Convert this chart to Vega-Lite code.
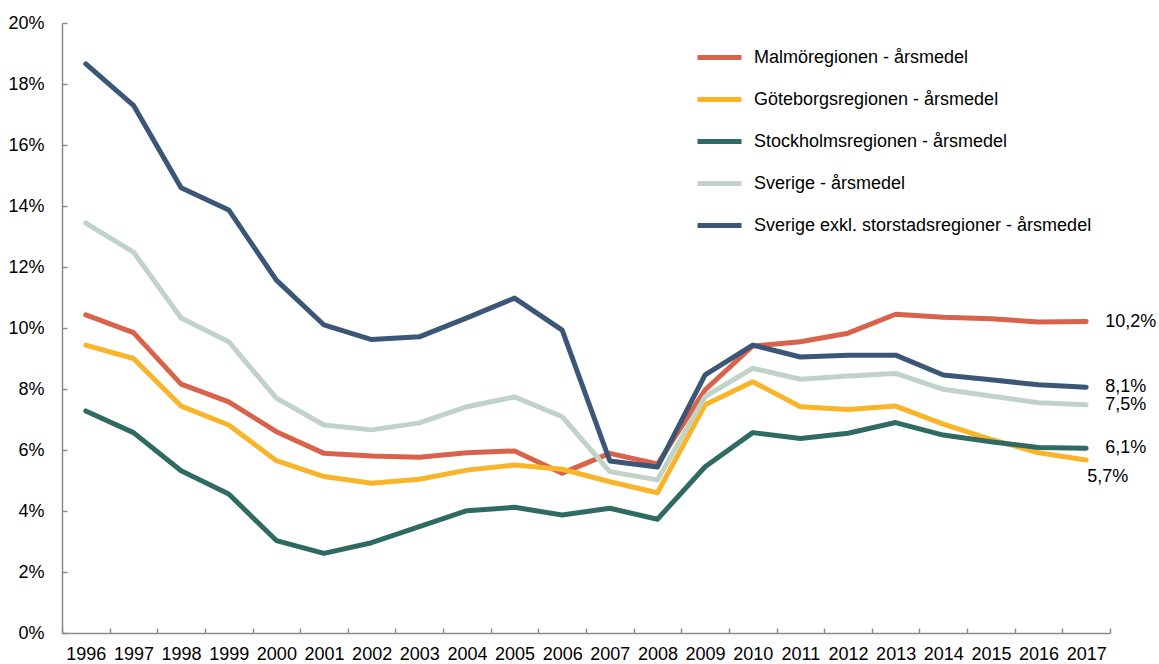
{
  "$schema": "https://vega.github.io/schema/vega-lite/v6.json",
  "width": 1048,
  "height": 610,
  "autosize": {"type": "none"},
  "padding": {"left": 62, "top": 23, "right": 49, "bottom": 31},
  "background": "white",
  "config": {
    "locale": {"number": {"decimal": ",", "thousands": " ", "grouping": [3], "currency": ["", " kr"]}},
    "view": {"stroke": null},
    "font": "Liberation Sans",
    "axis": {"labelFont": "Liberation Sans", "labelFontSize": 18, "labelColor": "#000000", "domainColor": "#8c8c8c", "tickColor": "#8c8c8c", "domainWidth": 1.5, "tickWidth": 1.5, "grid": false, "title": null}
  },
  "data": {
    "values": [
      {"year": "1996", "series": "Malmöregionen - årsmedel", "value": 0.1043},
      {"year": "1997", "series": "Malmöregionen - årsmedel", "value": 0.0985},
      {"year": "1998", "series": "Malmöregionen - årsmedel", "value": 0.0816},
      {"year": "1999", "series": "Malmöregionen - årsmedel", "value": 0.0758},
      {"year": "2000", "series": "Malmöregionen - årsmedel", "value": 0.0660},
      {"year": "2001", "series": "Malmöregionen - årsmedel", "value": 0.0589},
      {"year": "2002", "series": "Malmöregionen - årsmedel", "value": 0.0580},
      {"year": "2003", "series": "Malmöregionen - årsmedel", "value": 0.0576},
      {"year": "2004", "series": "Malmöregionen - årsmedel", "value": 0.0591},
      {"year": "2005", "series": "Malmöregionen - årsmedel", "value": 0.0597},
      {"year": "2006", "series": "Malmöregionen - årsmedel", "value": 0.0524},
      {"year": "2007", "series": "Malmöregionen - årsmedel", "value": 0.0589},
      {"year": "2008", "series": "Malmöregionen - årsmedel", "value": 0.0554},
      {"year": "2009", "series": "Malmöregionen - årsmedel", "value": 0.0797},
      {"year": "2010", "series": "Malmöregionen - årsmedel", "value": 0.0941},
      {"year": "2011", "series": "Malmöregionen - årsmedel", "value": 0.0955},
      {"year": "2012", "series": "Malmöregionen - årsmedel", "value": 0.0983},
      {"year": "2013", "series": "Malmöregionen - årsmedel", "value": 0.1045},
      {"year": "2014", "series": "Malmöregionen - årsmedel", "value": 0.1035},
      {"year": "2015", "series": "Malmöregionen - årsmedel", "value": 0.1030},
      {"year": "2016", "series": "Malmöregionen - årsmedel", "value": 0.1020},
      {"year": "2017", "series": "Malmöregionen - årsmedel", "value": 0.1021},
      {"year": "1996", "series": "Göteborgsregionen - årsmedel", "value": 0.0944},
      {"year": "1997", "series": "Göteborgsregionen - årsmedel", "value": 0.0900},
      {"year": "1998", "series": "Göteborgsregionen - årsmedel", "value": 0.0744},
      {"year": "1999", "series": "Göteborgsregionen - årsmedel", "value": 0.0682},
      {"year": "2000", "series": "Göteborgsregionen - årsmedel", "value": 0.0565},
      {"year": "2001", "series": "Göteborgsregionen - årsmedel", "value": 0.0513},
      {"year": "2002", "series": "Göteborgsregionen - årsmedel", "value": 0.0491},
      {"year": "2003", "series": "Göteborgsregionen - årsmedel", "value": 0.0504},
      {"year": "2004", "series": "Göteborgsregionen - årsmedel", "value": 0.0534},
      {"year": "2005", "series": "Göteborgsregionen - årsmedel", "value": 0.0551},
      {"year": "2006", "series": "Göteborgsregionen - årsmedel", "value": 0.0537},
      {"year": "2007", "series": "Göteborgsregionen - årsmedel", "value": 0.0496},
      {"year": "2008", "series": "Göteborgsregionen - årsmedel", "value": 0.0460},
      {"year": "2009", "series": "Göteborgsregionen - årsmedel", "value": 0.0748},
      {"year": "2010", "series": "Göteborgsregionen - årsmedel", "value": 0.0824},
      {"year": "2011", "series": "Göteborgsregionen - årsmedel", "value": 0.0742},
      {"year": "2012", "series": "Göteborgsregionen - årsmedel", "value": 0.0733},
      {"year": "2013", "series": "Göteborgsregionen - årsmedel", "value": 0.0744},
      {"year": "2014", "series": "Göteborgsregionen - årsmedel", "value": 0.0685},
      {"year": "2015", "series": "Göteborgsregionen - årsmedel", "value": 0.0635},
      {"year": "2016", "series": "Göteborgsregionen - årsmedel", "value": 0.0591},
      {"year": "2017", "series": "Göteborgsregionen - årsmedel", "value": 0.0567},
      {"year": "1996", "series": "Stockholmsregionen - årsmedel", "value": 0.0728},
      {"year": "1997", "series": "Stockholmsregionen - årsmedel", "value": 0.0657},
      {"year": "1998", "series": "Stockholmsregionen - årsmedel", "value": 0.0532},
      {"year": "1999", "series": "Stockholmsregionen - årsmedel", "value": 0.0456},
      {"year": "2000", "series": "Stockholmsregionen - årsmedel", "value": 0.0303},
      {"year": "2001", "series": "Stockholmsregionen - årsmedel", "value": 0.0261},
      {"year": "2002", "series": "Stockholmsregionen - årsmedel", "value": 0.0296},
      {"year": "2003", "series": "Stockholmsregionen - årsmedel", "value": 0.0349},
      {"year": "2004", "series": "Stockholmsregionen - årsmedel", "value": 0.0401},
      {"year": "2005", "series": "Stockholmsregionen - årsmedel", "value": 0.0412},
      {"year": "2006", "series": "Stockholmsregionen - årsmedel", "value": 0.0387},
      {"year": "2007", "series": "Stockholmsregionen - årsmedel", "value": 0.0409},
      {"year": "2008", "series": "Stockholmsregionen - årsmedel", "value": 0.0373},
      {"year": "2009", "series": "Stockholmsregionen - årsmedel", "value": 0.0545},
      {"year": "2010", "series": "Stockholmsregionen - årsmedel", "value": 0.0657},
      {"year": "2011", "series": "Stockholmsregionen - årsmedel", "value": 0.0638},
      {"year": "2012", "series": "Stockholmsregionen - årsmedel", "value": 0.0655},
      {"year": "2013", "series": "Stockholmsregionen - årsmedel", "value": 0.0690},
      {"year": "2014", "series": "Stockholmsregionen - årsmedel", "value": 0.0649},
      {"year": "2015", "series": "Stockholmsregionen - årsmedel", "value": 0.0627},
      {"year": "2016", "series": "Stockholmsregionen - årsmedel", "value": 0.0608},
      {"year": "2017", "series": "Stockholmsregionen - årsmedel", "value": 0.0606},
      {"year": "1996", "series": "Sverige - årsmedel", "value": 0.1344},
      {"year": "1997", "series": "Sverige - årsmedel", "value": 0.1249},
      {"year": "1998", "series": "Sverige - årsmedel", "value": 0.1033},
      {"year": "1999", "series": "Sverige - årsmedel", "value": 0.0955},
      {"year": "2000", "series": "Sverige - årsmedel", "value": 0.0770},
      {"year": "2001", "series": "Sverige - årsmedel", "value": 0.0682},
      {"year": "2002", "series": "Sverige - årsmedel", "value": 0.0666},
      {"year": "2003", "series": "Sverige - årsmedel", "value": 0.0689},
      {"year": "2004", "series": "Sverige - årsmedel", "value": 0.0742},
      {"year": "2005", "series": "Sverige - årsmedel", "value": 0.0774},
      {"year": "2006", "series": "Sverige - årsmedel", "value": 0.0709},
      {"year": "2007", "series": "Sverige - årsmedel", "value": 0.0529},
      {"year": "2008", "series": "Sverige - årsmedel", "value": 0.0502},
      {"year": "2009", "series": "Sverige - årsmedel", "value": 0.0775},
      {"year": "2010", "series": "Sverige - årsmedel", "value": 0.0868},
      {"year": "2011", "series": "Sverige - årsmedel", "value": 0.0832},
      {"year": "2012", "series": "Sverige - årsmedel", "value": 0.0843},
      {"year": "2013", "series": "Sverige - årsmedel", "value": 0.0851},
      {"year": "2014", "series": "Sverige - årsmedel", "value": 0.0799},
      {"year": "2015", "series": "Sverige - årsmedel", "value": 0.0777},
      {"year": "2016", "series": "Sverige - årsmedel", "value": 0.0755},
      {"year": "2017", "series": "Sverige - årsmedel", "value": 0.0748},
      {"year": "1996", "series": "Sverige exkl. storstadsregioner - årsmedel", "value": 0.1866},
      {"year": "1997", "series": "Sverige exkl. storstadsregioner - årsmedel", "value": 0.1730},
      {"year": "1998", "series": "Sverige exkl. storstadsregioner - årsmedel", "value": 0.1460},
      {"year": "1999", "series": "Sverige exkl. storstadsregioner - årsmedel", "value": 0.1387},
      {"year": "2000", "series": "Sverige exkl. storstadsregioner - årsmedel", "value": 0.1157},
      {"year": "2001", "series": "Sverige exkl. storstadsregioner - årsmedel", "value": 0.1010},
      {"year": "2002", "series": "Sverige exkl. storstadsregioner - årsmedel", "value": 0.0962},
      {"year": "2003", "series": "Sverige exkl. storstadsregioner - årsmedel", "value": 0.0971},
      {"year": "2004", "series": "Sverige exkl. storstadsregioner - årsmedel", "value": 0.1033},
      {"year": "2005", "series": "Sverige exkl. storstadsregioner - årsmedel", "value": 0.1098},
      {"year": "2006", "series": "Sverige exkl. storstadsregioner - årsmedel", "value": 0.0993},
      {"year": "2007", "series": "Sverige exkl. storstadsregioner - årsmedel", "value": 0.0564},
      {"year": "2008", "series": "Sverige exkl. storstadsregioner - årsmedel", "value": 0.0544},
      {"year": "2009", "series": "Sverige exkl. storstadsregioner - årsmedel", "value": 0.0846},
      {"year": "2010", "series": "Sverige exkl. storstadsregioner - årsmedel", "value": 0.0944},
      {"year": "2011", "series": "Sverige exkl. storstadsregioner - årsmedel", "value": 0.0905},
      {"year": "2012", "series": "Sverige exkl. storstadsregioner - årsmedel", "value": 0.0911},
      {"year": "2013", "series": "Sverige exkl. storstadsregioner - årsmedel", "value": 0.0911},
      {"year": "2014", "series": "Sverige exkl. storstadsregioner - årsmedel", "value": 0.0846},
      {"year": "2015", "series": "Sverige exkl. storstadsregioner - årsmedel", "value": 0.0830},
      {"year": "2016", "series": "Sverige exkl. storstadsregioner - årsmedel", "value": 0.0814},
      {"year": "2017", "series": "Sverige exkl. storstadsregioner - årsmedel", "value": 0.0806}
    ]
  },
  "encoding": {
    "x": {
      "field": "year", "type": "ordinal", "bandPosition": 0.5,
      "scale": {"type": "band", "paddingInner": 0, "paddingOuter": 0},
      "axis": {"labelAngle": 0, "tickBand": "extent", "tickSize": -5, "labelPadding": 17, "domainColor": "#8c8c8c"}
    },
    "y": {
      "field": "value", "type": "quantitative",
      "scale": {"domain": [0, 0.2], "nice": false, "zero": true},
      "axis": {"values": [0, 0.02, 0.04, 0.06, 0.08, 0.1, 0.12, 0.14, 0.16, 0.18, 0.2], "format": ".0%", "tickSize": -5, "labelPadding": 23}
    }
  },
  "layer": [
    {
      "mark": {"type": "line", "strokeWidth": 5, "strokeCap": "round", "strokeJoin": "round"},
      "encoding": {
        "color": {
          "field": "series", "type": "nominal",
          "scale": {
            "domain": ["Malmöregionen - årsmedel", "Göteborgsregionen - årsmedel", "Stockholmsregionen - årsmedel", "Sverige - årsmedel", "Sverige exkl. storstadsregioner - årsmedel"],
            "range": ["#D8634A", "#F8B52A", "#2F6B63", "#C1D3C9", "#3B5677"]
          },
          "legend": {
            "title": null, "orient": "none", "legendX": 633, "legendY": 10,
            "symbolType": "stroke", "symbolSize": 1936, "symbolStrokeWidth": 5,
            "labelFont": "Liberation Sans", "labelFontSize": 18, "labelColor": "#000000",
            "labelOffset": 10, "rowPadding": 7, "padding": 0, "labelLimit": 500
          }
        },
        "order": {"field": "series"}
      }
    },
    {
      "transform": [{"filter": "datum.year == '2017' && datum.series != 'Göteborgsregionen - årsmedel'"}],
      "mark": {"type": "text", "align": "left", "baseline": "middle", "dx": 19, "fontSize": 18, "font": "Liberation Sans", "color": "#000000"},
      "encoding": {"text": {"field": "value", "type": "quantitative", "format": ".1%"}}
    },
    {
      "transform": [{"filter": "datum.year == '2017' && datum.series == 'Göteborgsregionen - årsmedel'"}],
      "mark": {"type": "text", "align": "left", "baseline": "middle", "dx": 1, "dy": 17, "fontSize": 18, "font": "Liberation Sans", "color": "#000000"},
      "encoding": {"text": {"field": "value", "type": "quantitative", "format": ".1%"}}
    }
  ]
}
